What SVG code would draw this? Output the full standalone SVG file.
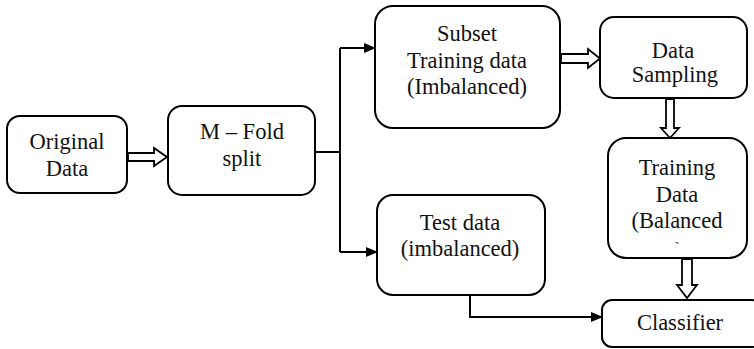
<svg xmlns="http://www.w3.org/2000/svg" width="754" height="349" viewBox="0 0 754 349">
<defs>
<marker id="ah" markerWidth="12" markerHeight="10" refX="11" refY="5" orient="auto" markerUnits="userSpaceOnUse">
<path d="M0,0 L12,5 L0,10 Z" fill="#000"/>
</marker>
<style>
.box{fill:#fff;stroke:#000;stroke-width:2}
.t{font-family:"Liberation Serif","Times New Roman",serif;font-size:22.5px;fill:#111;text-anchor:middle}
.ln{fill:none;stroke:#000;stroke-width:2}
.ha{fill:#fff;stroke:#000;stroke-width:1.8;stroke-linejoin:miter}
</style>
</defs>
<rect width="754" height="349" fill="#fff"/>
<g id="connectors">
<path class="ln" d="M315,152 H340"/>
<path class="ln" d="M340,48 V252"/>
<path class="ln" d="M340,48 H375" marker-end="url(#ah)"/>
<path class="ln" d="M340,252 H377" marker-end="url(#ah)"/>
<path class="ln" d="M470,295 V317 H602" marker-end="url(#ah)"/>
<path class="ha" d="M128,153 H154 V148 L167,157 L154,166 V161 H128 Z"/>
<path class="ha" d="M561,54 H588 V49 L600,58.5 L588,68 V63 H561 Z"/>
<path class="ha" d="M666,99 V128 H661 L670,138 L679,128 H674 V99 Z"/>
<path class="ha" d="M682,259 V285 H677 L687,298 L697,285 H692 V259 Z"/>
</g>
<g id="original">
<rect class="box" x="7" y="116" width="120" height="77" rx="13"/>
<text class="t" x="67" y="149">Original</text>
<text class="t" x="67" y="176">Data</text>
</g>
<g id="mfold">
<rect class="box" x="168" y="106" width="147" height="89" rx="14"/>
<text class="t" x="242" y="139">M – Fold</text>
<text class="t" x="242" y="166">split</text>
</g>
<g id="subset">
<rect class="box" x="375" y="6" width="185" height="122" rx="18"/>
<text class="t" x="467" y="41">Subset</text>
<text class="t" x="467" y="68">Training data</text>
<text class="t" x="467" y="94">(Imbalanced)</text>
</g>
<g id="sampling">
<rect class="box" x="600" y="17" width="147" height="81" rx="14"/>
<text class="t" x="673" y="58">Data</text>
<text class="t" x="675" y="82">Sampling</text>
</g>
<g id="training">
<rect class="box" x="608" y="138" width="139" height="120" rx="18"/>
<text class="t" x="677" y="175">Training</text>
<text class="t" x="677" y="202">Data</text>
<text class="t" x="677" y="228">(Balanced</text>
<text class="t" x="677" y="252" style="font-size:14px">`</text>
</g>
<g id="test">
<rect class="box" x="377" y="195" width="168" height="100" rx="16"/>
<text class="t" x="460" y="230">Test data</text>
<text class="t" x="460" y="256">(imbalanced)</text>
</g>
<g id="classifier">
<rect class="box" x="602" y="300" width="160" height="47" rx="10"/>
<text class="t" x="680" y="330">Classifier</text>
</g>
</svg>
